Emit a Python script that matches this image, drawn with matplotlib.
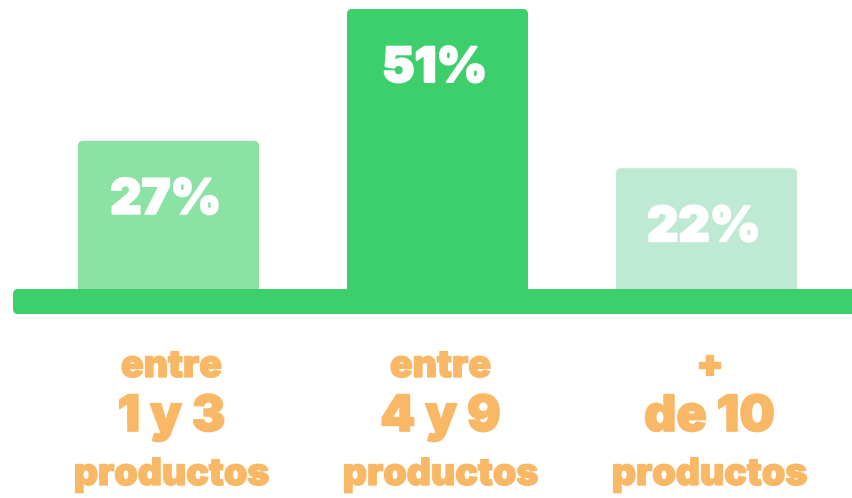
import matplotlib.pyplot as plt
import matplotlib.transforms as mtransforms
import matplotlib.patheffects as pe
from matplotlib.patches import FancyBboxPatch

categories = ["entre 1 y 3 productos", "entre 4 y 9 productos", "+ de 10 productos"]
values = [27, 51, 22]
top_lines = ["entre", "entre", "+"]
mid_lines = ["1 y 3", "4 y 9", "de 10"]
bottom_lines = ["productos", "productos", "productos"]

bar_colors = ["#8AE3A5", "#3DCF6B", "#BEE9D2"]
base_color = "#3DCF6B"
label_color = "#F9B865"
font = "Inter"

W, H = 853, 498
fig = plt.figure(figsize=(W / 100, H / 100), dpi=100)
# axes: value 0 sits on top of the green base line (y=289px), 51 reaches y=9px
ax = fig.add_axes([0, (H - 289) / H, 1, 280 / H])
ax.set_xlim(-168.5 / 269, (W - 168.5) / 269)
ax.set_ylim(0, 51)
ax.axis("off")

px_x = 1 / 269           # one pixel in x data units
px_y = 51 / 280          # one pixel in y data units
width = 181 * px_x
radius = 5 * px_x


def heavy(color, lw):
    return [pe.withStroke(linewidth=lw, foreground=color)]


for i, (v, c) in enumerate(zip(values, bar_colors)):
    box = FancyBboxPatch((i - width / 2, -10 * px_y), width, v + 10 * px_y,
                         boxstyle=f"round,pad=0,rounding_size={radius}",
                         mutation_aspect=px_y / px_x,
                         fc=c, ec="none", clip_on=False, zorder=2)
    ax.add_patch(box)
    ax.annotate(f"{v}%", (i, v), xytext=(-2, -60 * 0.72), textcoords="offset points",
                ha="center", va="center", color="white", fontsize=35,
                fontweight="black", family=font, zorder=4,
                path_effects=heavy("white", 1.4))

# green base line
base = FancyBboxPatch((13 * px_x - 168.5 / 269, -25 * px_y), 900 * px_x, 25 * px_y,
                      boxstyle=f"round,pad=0,rounding_size={radius}",
                      mutation_aspect=px_y / px_x,
                      fc=base_color, ec="none", clip_on=False, zorder=3)
ax.add_patch(base)

trans = mtransforms.blended_transform_factory(ax.transData, fig.transFigure)
for i in range(len(categories)):
    x = i + 3 * px_x
    if top_lines[i] == "+":
        ax.text(x, 1 - 366 / H, top_lines[i], transform=trans, ha="center", va="center",
                color=label_color, fontsize=28, fontweight="black", family=font,
                path_effects=heavy(label_color, 1.0))
    else:
        ax.text(x, 1 - 377 / H, top_lines[i], transform=trans, ha="center", va="baseline",
                color=label_color, fontsize=27, fontweight="black", family=font,
                path_effects=heavy(label_color, 1.0))
    ax.text(x, 1 - 431 / H, mid_lines[i], transform=trans, ha="center", va="baseline",
            color=label_color, fontsize=36, fontweight="black", family=font,
            path_effects=heavy(label_color, 1.2))
    ax.text(x, 1 - 485 / H, bottom_lines[i], transform=trans, ha="center", va="baseline",
            color=label_color, fontsize=27, fontweight="black", family=font,
            path_effects=heavy(label_color, 1.0))

fig.savefig("out.png", dpi=100)
